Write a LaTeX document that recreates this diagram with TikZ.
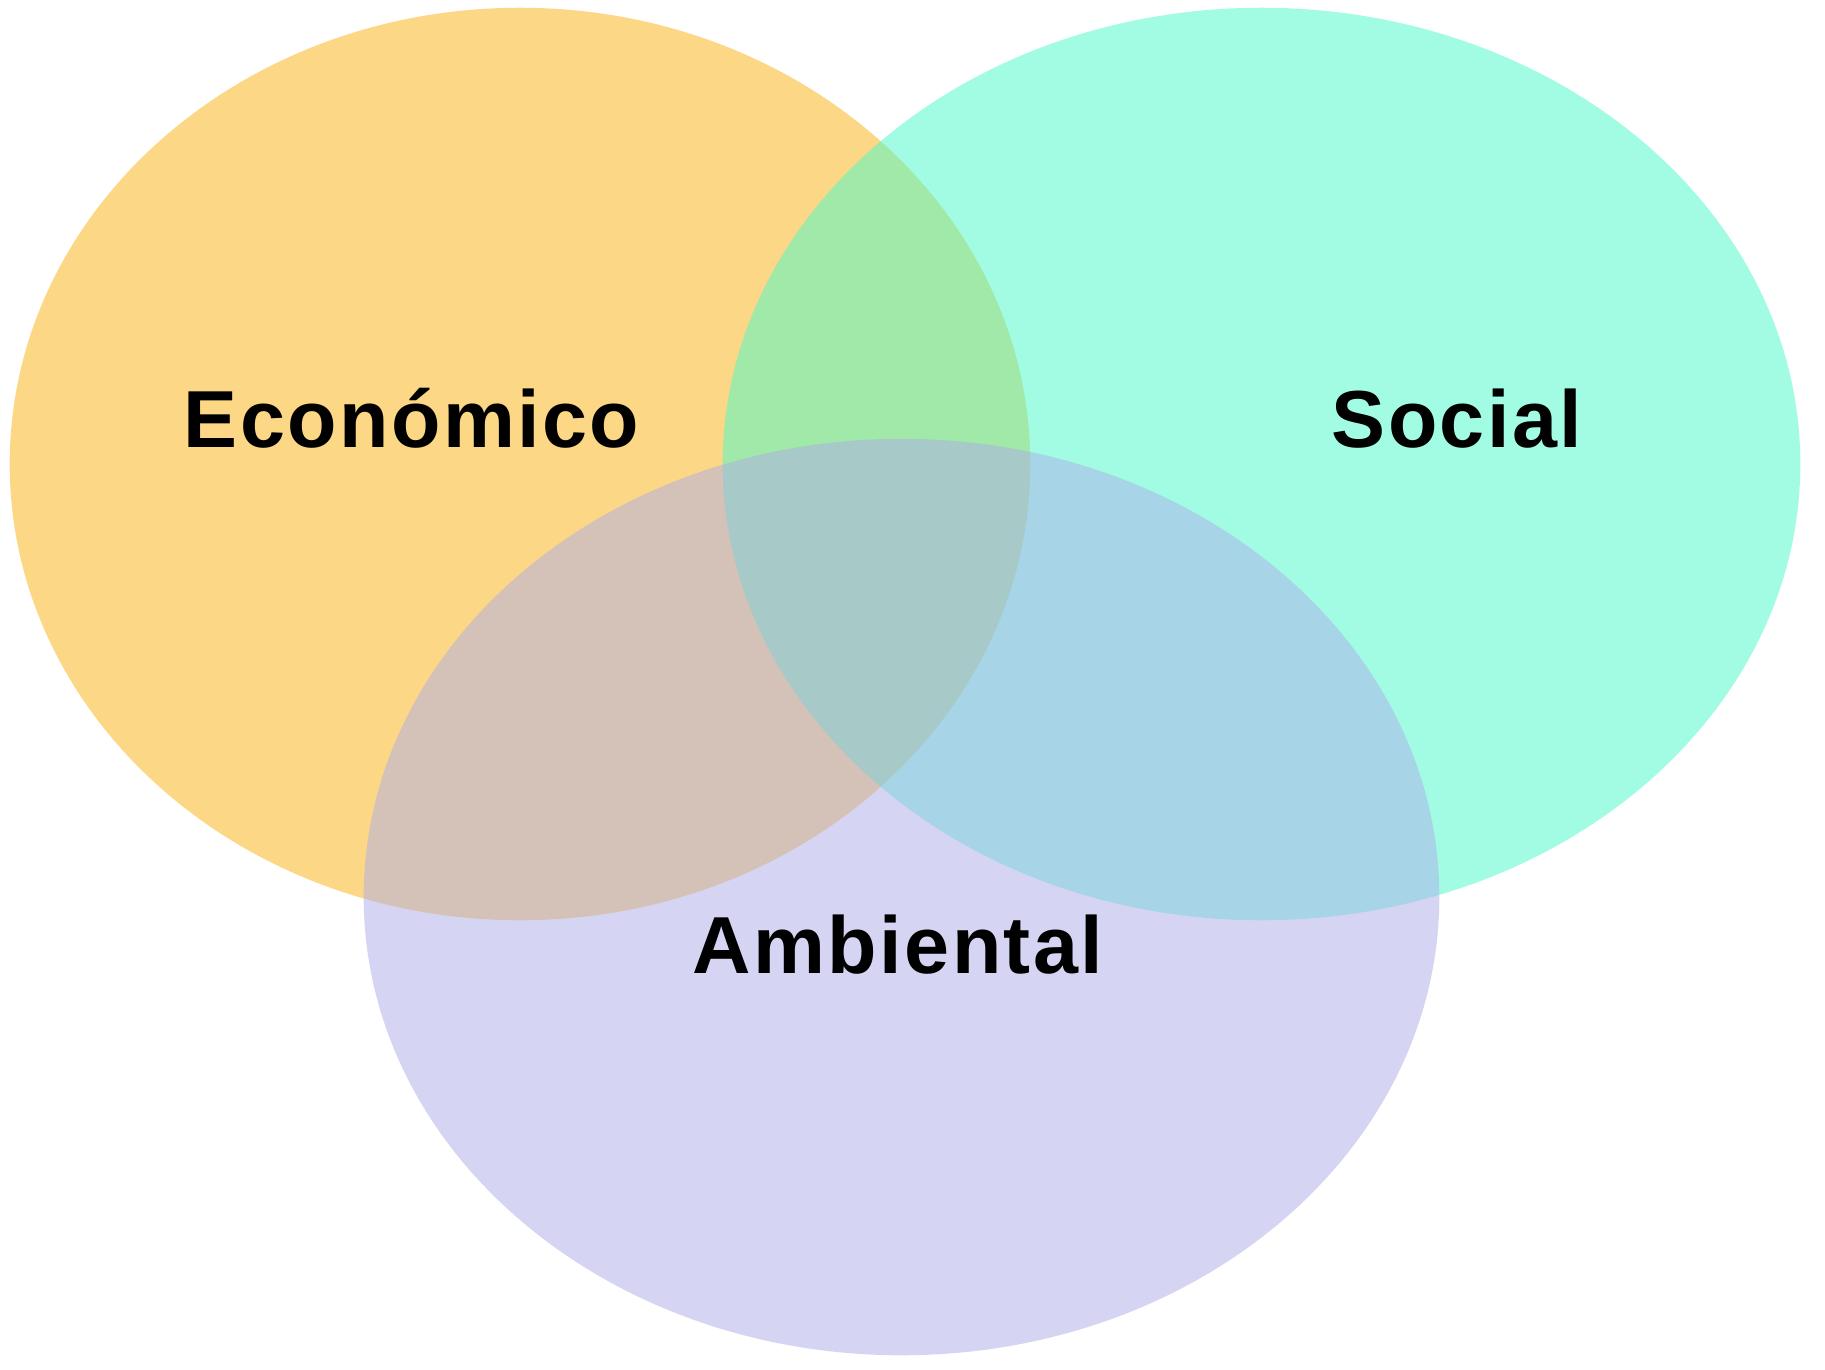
\documentclass[tikz,border=0pt]{standalone}
\usepackage{fontspec}
\setmainfont{Liberation Sans}[LetterSpace=3]
\usetikzlibrary{shapes.geometric}
\definecolor{ecoC}{RGB}{251,177,13}
\definecolor{socC}{RGB}{71,251,203}
\definecolor{ambC}{RGB}{173,173,233}
\tikzset{
  venn/.style={ellipse, draw=none, inner sep=0pt, fill opacity=0.5},
  lbl/.style={anchor=base, font=\fontsize{23pt}{27pt}\selectfont\bfseries, text=black}
}
\begin{document}
\begin{tikzpicture}[x=0.01cm,y=-0.01cm]
\useasboundingbox[fill=white] (0,0) rectangle (1825,1369);
\node[venn, fill=ecoC, minimum width=10.20cm, minimum height=9.12cm] (eco) at (520,464) {};
\node[venn, fill=socC, minimum width=10.77cm, minimum height=9.12cm] (soc) at (1261.5,464) {};
\node[venn, fill=ambC, minimum width=10.75cm, minimum height=9.16cm] (amb) at (901.5,897) {};
\node[lbl] (teco) at (411.5,447) {Económico};
\node[lbl] (tsoc) at (1457,447) {Social};
\node[lbl] (tamb) at (898,973) {Ambiental};
\end{tikzpicture}
\end{document}
